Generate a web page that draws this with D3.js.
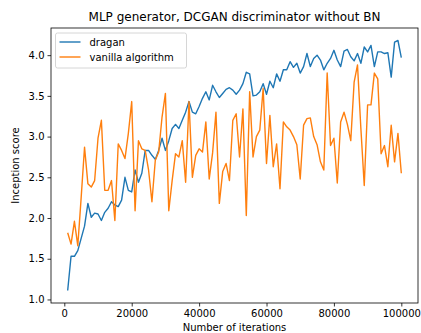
<!DOCTYPE html>
<html>
<head>
<meta charset="utf-8">
<script src="https://cdn.jsdelivr.net/npm/d3@7"></script>
<style>
  body { margin: 0; background: #fff; }
  text { font-family: "DejaVu Sans", sans-serif; fill: #000; }
  .axis path, .axis line { stroke: #000; stroke-width: 0.8; }
  .axis text { font-size: 10px; }
  .line { fill: none; stroke-width: 1.4; stroke-linejoin: round; }
</style>
</head>
<body>
<svg width="421" height="333"></svg>
<script>
// iterations (every 1000)
var iterations = d3.range(1, 101).map(function(i) { return i * 1000; });

var dragan = [1.11, 1.53, 1.53, 1.60, 1.75, 1.90, 2.18, 2.01, 2.06, 2.05,
  1.97, 2.07, 2.12, 2.20, 2.16, 2.14, 2.22, 2.50, 2.34, 2.32,
  2.59, 2.44, 2.55, 2.83, 2.83, 2.77, 2.72, 2.83, 2.98, 2.83,
  2.95, 3.10, 3.15, 3.10, 3.20, 3.30, 3.43, 3.30, 3.28, 3.37,
  3.47, 3.55, 3.45, 3.63, 3.55, 3.48, 3.53, 3.58, 3.60, 3.57,
  3.52, 3.57, 3.65, 3.79, 3.77, 3.50, 3.51, 3.55, 3.65, 3.52,
  3.68, 3.60, 3.77, 3.68, 3.82, 3.82, 3.92, 3.85, 3.90, 3.78,
  3.86, 4.02, 3.86, 3.96, 4.00, 3.94, 3.82, 3.90, 3.96, 4.06,
  3.94, 3.86, 4.05, 4.07, 3.98, 3.93, 4.02, 3.90, 4.10, 4.04,
  4.12, 3.86, 4.04, 4.04, 4.02, 4.03, 3.73, 4.16, 4.18, 3.97];

var vanilla = [1.82, 1.68, 1.96, 1.66, 2.25, 2.87, 2.42, 2.38, 2.46, 2.98,
  3.20, 2.34, 2.34, 2.46, 1.97, 2.91, 2.83, 2.73, 3.04, 3.43,
  2.09, 2.95, 2.85, 2.83, 2.59, 2.20, 2.71, 2.81, 3.24, 3.53,
  2.09, 2.46, 2.79, 2.75, 2.95, 2.44, 3.43, 2.50, 2.77, 2.85,
  2.81, 3.18, 2.48, 2.80, 3.30, 2.18, 2.57, 2.67, 2.46, 3.20,
  3.28, 2.75, 3.34, 2.03, 3.55, 2.75, 3.00, 3.08, 3.59, 2.67,
  3.26, 2.63, 2.91, 2.36, 3.18, 3.12, 3.08, 3.00, 2.90, 2.48,
  3.14, 3.22, 3.23, 3.00, 2.90, 2.69, 2.59, 3.78, 2.89, 2.98,
  2.43, 3.18, 3.30, 3.15, 2.95, 3.67, 3.88, 3.10, 2.40, 3.39,
  3.39, 3.78, 3.71, 2.79, 2.89, 2.63, 3.14, 2.69, 3.04, 2.55];

var seriesNames = ["dragan", "vanilla algorithm"],
    seriesColors = ["#1f77b4", "#ff7f0e"];

var xTicks = [0, 20000, 40000, 60000, 80000, 100000],
    yTicks = [1.0, 1.5, 2.0, 2.5, 3.0, 3.5, 4.0];

var svg = d3.select("svg"),
    margin = {top: 28, right: 3, bottom: 30, left: 51},
    width = svg.attr("width") - margin.left - margin.right,
    height = svg.attr("height") - margin.top - margin.bottom,
    g = svg.append("g").attr("transform", "translate(" + margin.left + "," + margin.top + ")");

var allY = dragan.concat(vanilla),
    xpad = (d3.max(iterations) - d3.min(iterations)) * 0.05,
    ypad = (d3.max(allY) - d3.min(allY)) * 0.05;

var x = d3.scaleLinear()
    .domain([d3.min(iterations) - xpad, d3.max(iterations) + xpad])
    .range([0, width]);
var y = d3.scaleLinear()
    .domain([d3.min(allY) - ypad, d3.max(allY) + ypad])
    .range([height, 0]);

var line = d3.line()
    .x(function(d, i) { return x(iterations[i]); })
    .y(function(d) { return y(d); });

[dragan, vanilla].forEach(function(s, k) {
  g.append("path")
    .datum(s)
    .attr("class", "line")
    .attr("d", line)
    .style("stroke", seriesColors[k]);
});

// frame
g.append("rect")
  .attr("width", width).attr("height", height)
  .attr("fill", "none").attr("stroke", "#000").attr("stroke-width", 0.8);

g.append("g")
  .attr("class", "axis")
  .attr("transform", "translate(0," + height + ")")
  .call(d3.axisBottom(x).tickValues(xTicks).tickSize(3.5).tickPadding(3).tickFormat(d3.format("d")))
  .call(function(a) { a.select(".domain").remove(); });

g.append("g")
  .attr("class", "axis")
  .call(d3.axisLeft(y).tickValues(yTicks).tickSize(3.5).tickPadding(3).tickFormat(d3.format(".1f")))
  .call(function(a) { a.select(".domain").remove(); });

svg.append("text")
  .attr("x", margin.left + width / 2)
  .attr("y", 21)
  .attr("text-anchor", "middle")
  .style("font-size", "12px")
  .text("MLP generator, DCGAN discriminator without BN");

svg.append("text")
  .attr("x", margin.left + width / 2)
  .attr("y", 331)
  .attr("text-anchor", "middle")
  .style("font-size", "10px")
  .text("Number of iterations");

svg.append("text")
  .attr("transform", "translate(19," + (margin.top + height / 2) + ") rotate(-90)")
  .attr("text-anchor", "middle")
  .style("font-size", "10px")
  .text("Inception score");

// legend
var legend = g.append("g").attr("transform", "translate(4.5,5)");
legend.append("rect")
  .attr("width", 131).attr("height", 35).attr("rx", 2)
  .attr("fill", "#fff").attr("fill-opacity", 0.8)
  .attr("stroke", "#ccc").attr("stroke-width", 0.8);
seriesNames.forEach(function(name, k) {
  var row = legend.append("g").attr("transform", "translate(0," + (9 + k * 15) + ")");
  row.append("line")
    .attr("x1", 4).attr("x2", 25)
    .attr("stroke", seriesColors[k]).attr("stroke-width", 1.4);
  row.append("text")
    .attr("x", 34).attr("dy", "0.35em")
    .style("font-size", "10px")
    .text(name);
});
</script>
</body>
</html>
